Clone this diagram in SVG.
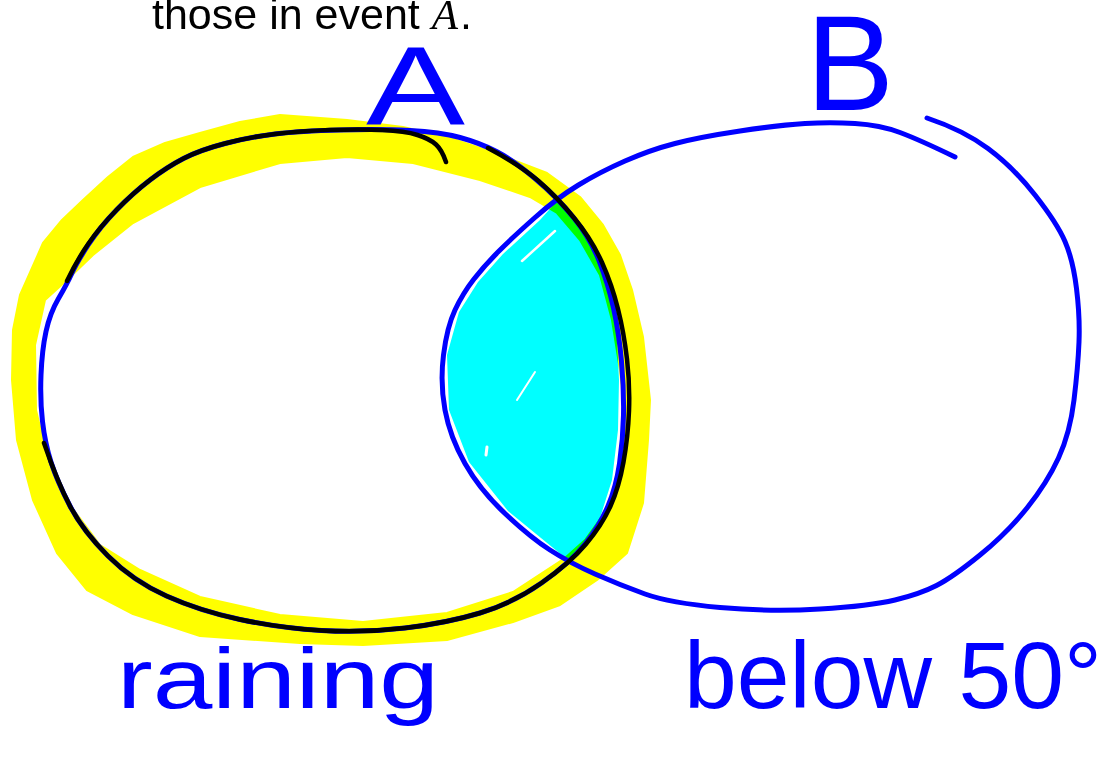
<svg xmlns="http://www.w3.org/2000/svg" width="1105" height="761" viewBox="0 0 1105 761">
<style>
.pen{fill:none;stroke:#0000ff;stroke-width:5;stroke-linecap:round;stroke-linejoin:round}
.ink{fill:none;stroke:#000;stroke-width:4.5;stroke-linecap:round;stroke-linejoin:round}
.hand{font-family:"Liberation Sans",Arial,sans-serif;fill:#0000ff}
.streak{stroke:#fff;stroke-linecap:round;fill:none}
</style>
<rect width="1105" height="761" fill="#fff"/>
<text x="152" y="29" font-family="Liberation Sans, Arial, sans-serif" font-size="43" fill="#000">those in event <tspan font-family="Liberation Serif, Times New Roman, serif" font-style="italic">A</tspan><tspan dx="2">.</tspan></text>

<g id="highlight-A">
<path fill="#ffff00" fill-rule="evenodd" stroke="#ffff00" stroke-width="2" stroke-linejoin="round" d="M280,115 L347,120 L403,127 L450,138 L480,148 L513,160 L547,173 L580,197 L603,225 L620,255 L632,290 L643,337 L650,400 L648,440 L643,503 L627,553 L597,580 L560,605 L513,622 L447,640 L363,645 L300,643 L200,636 L133,614 L87,590 L57,553 L33,500 L17,440 L12,380 L13,330 L20,295 L32,268 L43,243 L62,220 L83,200 L108,177 L133,157 L165,143 L200,133 L240,122 Z M280,163 L347,157 L413,163 L480,180 L530,197 L557,213 L580,240 L600,275 L612,320 L620,370 L625,420 L622,470 L615,490 L603,515 L585,540 L565,558 L513,592 L447,613 L363,622 L280,615 L200,597 L140,570 L100,545 L70,505 L48,460 L36,410 L35,345 L45,300 L67,280 L93,255 L133,223 L200,187 Z"/>
</g>

<g id="intersection">
<polygon fill="#00ffff" style="mix-blend-mode:multiply" points="557,201 575,221 592,243 605,272 613,305 617,340 619,380 618,430 612,480 600,518 585,542 568,560 552,547 508,511 469,462 449,410 447,355 459,312 478,282 503,254 540,220"/>
<path class="streak" stroke-width="2.5" d="M555,231 L522,261"/>
<path class="streak" stroke-width="2" d="M535,372 L517,400"/>
<path class="streak" stroke-width="3" d="M487,447 L486,455"/>
</g>

<g id="set-A">
<path class="pen" d="M275,134 Q300,131 340,130 Q380,129 410,130.5 Q440,132 460,137.5 Q480,143 496.5,151.5 Q513,160 535,178.5 Q557,197 573.5,217.5 Q590,238 599,260.5 Q608,283 613.5,308 Q619,333 621.5,361.5 Q624,390 623.5,415 Q623,440 619.5,463.5 Q616,487 608,506 Q600,525 585,544 Q570,563 541.5,583 Q513,603 480,613 Q447,623 405,628 Q363,633 321.5,630.5 Q280,628 240,619.5 Q200,611 166.5,596 Q133,581 108,556 Q83,531 70,506 Q57,481 51,462 Q45,443 42.5,421.5 Q40,400 41,375 Q42,350 46,331.5 Q50,313 58.5,298.5 Q67,284 72,273 Q77,262 88.5,244.5 Q100,227 116.5,210 Q133,193 150,180 Q167,167 183.5,158.5 Q200,150 225,143.5 Q250,137 275,134 Z"/>
<text class="hand" x="366" y="124" font-size="112" textLength="99" lengthAdjust="spacingAndGlyphs">A</text>
<text class="hand" x="117" y="708" font-size="86" textLength="322" lengthAdjust="spacingAndGlyphs">raining</text>
</g>

<g id="set-B">
<path class="pen" d="M955,157 Q920,140 900,132.5 Q880,125 855,123.5 Q830,122 805,123.5 Q780,125 740,131 Q700,137 675,143.5 Q650,150 625,161 Q600,172 578.5,185 Q557,198 535,217.5 Q513,237 499,251 Q485,265 474,279 Q463,293 455,310 Q447,327 443.5,355 Q440,383 445,410 Q450,437 465,463.5 Q480,490 505,513.5 Q530,537 550,550 Q570,563 595,574 Q620,585 645,594 Q670,603 720,607.5 Q770,612 820,609 Q870,606 895,600 Q920,594 936.5,585.5 Q953,577 980,555 Q1007,533 1027,508 Q1047,483 1058.5,458 Q1070,433 1074,400 Q1078,367 1079,342 Q1080,317 1076.5,288.5 Q1073,260 1065,241.5 Q1057,223 1035,195 Q1013,167 988,148.5 Q963,130 927,118"/>
<text class="hand" x="806" y="110" font-size="135" textLength="88" lengthAdjust="spacingAndGlyphs">B</text>
<text class="hand" x="684" y="708" font-size="95" textLength="418" lengthAdjust="spacingAndGlyphs">below 50°</text>
</g>

<g id="outline-A">
<path class="ink" d="M67,281 Q77,260 88.5,243.5 Q100,227 116.5,210 Q133,193 150,180 Q167,167 183.5,158.5 Q200,150 225,143.5 Q250,137 275,134 Q300,131 330,130 Q360,129 382.5,130 Q405,131 417.5,135 Q430,139 436,144.5 Q442,150 446,162"/>
<path class="ink" d="M488,148 Q520,165 538.5,181 Q557,197 574.5,218.5 Q592,240 602,262.5 Q612,285 618,309 Q624,333 627,359 Q630,385 629,411 Q628,437 623.5,462 Q619,487 610.5,506 Q602,525 586,544 Q570,563 541.5,583 Q513,603 480,613 Q447,623 405,628 Q363,633 321.5,630.5 Q280,628 240,619.5 Q200,611 166.5,596 Q133,581 108,556 Q83,531 70,506 Q57,481 44,443"/>
</g>
</svg>
